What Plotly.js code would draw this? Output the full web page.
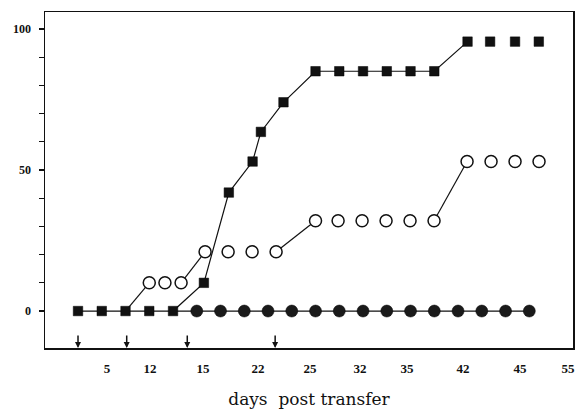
<!DOCTYPE html>
<html>
<head>
<meta charset="utf-8">
<script src="https://cdn.plot.ly/plotly-3.0.1.min.js"></script>
<style>html,body{margin:0;padding:0;background:#fff;}#chart{width:577px;height:416px;}</style>
</head>
<body>
<div id="chart"></div>
<script>
// x positions are measurement slots along the (non-linear) day axis
const squaresX = [0, 1, 2, 3, 4, 5.3, 6.35, 7.35, 7.7, 8.65, 10, 11, 12, 13, 14, 15, 16.4, 17.35, 18.4, 19.4];
const squaresY = [0, 0, 0, 0, 0, 10, 42, 53, 63.5, 74, 85, 85, 85, 85, 85, 85, 95.5, 95.5, 95.5, 95.5];

const openX = [2, 3, 3.66, 4.34, 5.35, 6.32, 7.33, 8.34, 10, 10.95, 11.96, 12.97, 13.98, 14.99, 16.38, 17.39, 18.4, 19.41];
const openY = [0, 10, 10, 10, 21, 21, 21, 21, 32, 32, 32, 32, 32, 32, 53, 53, 53, 53];

const filledX = [4, 5, 6, 7, 8, 9, 10, 11, 12, 13, 14, 15, 16, 17, 18, 19];
const filledY = [0, 0, 0, 0, 0, 0, 0, 0, 0, 0, 0, 0, 0, 0, 0, 0];

const tickSlots = [1.22, 3.03, 5.26, 7.58, 9.77, 11.87, 13.85, 16.21, 18.61, 20.63];
const tickLabels = ['5', '12', '15', '22', '25', '32', '35', '42', '45', '55'];

const arrowSlots = [0, 2.05, 4.6, 8.3];

const yTickVals = [0, 10, 20, 30, 40, 50, 60, 70, 80, 90, 100];
const yTickText = yTickVals.map(v => (v % 50 === 0 ? String(v) : ''));

function segments(x, y, connect) {
  const sx = [], sy = [];
  for (let i = 0; i < x.length; i++) {
    if (i > 0 && !connect(i, x, y)) { sx.push(null); sy.push(null); }
    sx.push(x[i]); sy.push(y[i]);
  }
  return {x: sx, y: sy};
}

const lineStyle = {color: '#111', width: 1.2};
const sqSeg = segments(squaresX, squaresY, (i) => i <= 16);
const opSeg = segments(openX, openY, (i, x, y) => y[i] !== y[i - 1]);
const fiSeg = segments(filledX, filledY, () => true);

const traces = [
  {x: fiSeg.x, y: fiSeg.y, mode: 'lines', line: lineStyle, connectgaps: false},
  {x: opSeg.x, y: opSeg.y, mode: 'lines', line: lineStyle, connectgaps: false},
  {x: sqSeg.x, y: sqSeg.y, mode: 'lines', line: lineStyle, connectgaps: false},
  {x: filledX.slice(1), y: filledY.slice(1), mode: 'markers',
   marker: {symbol: 'circle', size: 12, color: '#1a1a1a', line: {color: '#000', width: 0.5}}},
  {x: openX.slice(1), y: openY.slice(1), mode: 'markers',
   marker: {symbol: 'circle', size: 12, color: '#fff', line: {color: '#111', width: 1.5}}},
  {x: squaresX, y: squaresY, mode: 'markers',
   marker: {symbol: 'square', size: 9.5, color: '#111', line: {color: '#000', width: 0.5}}}
];

const annotations = arrowSlots.map(s => ({
  x: s, y: 0, xref: 'x', yref: 'paper', text: '', showarrow: true,
  ax: 0, ay: -14, arrowhead: 2, arrowsize: 0.8, arrowwidth: 1.5, arrowcolor: '#111'
}));

const layout = {
  width: 577, height: 416,
  margin: {l: 45, r: 4, t: 12, b: 68},
  paper_bgcolor: '#fff', plot_bgcolor: '#fff',
  showlegend: false, hovermode: false,
  xaxis: {
    range: [-1.39, 20.84], showgrid: false, zeroline: false,
    showline: true, mirror: true, linewidth: 1.5, linecolor: '#111',
    ticks: '', tickvals: tickSlots, ticktext: tickLabels,
    tickfont: {family: 'Liberation Serif', size: 13, color: '#111', weight: 'bold'},
    ticklabelstandoff: 8,
    title: {text: 'days  post transfer', font: {family: 'DejaVu Serif', size: 17, color: '#111'}, standoff: 18}
  },
  yaxis: {
    range: [-13.1, 106], showgrid: false, zeroline: false,
    showline: true, mirror: true, linewidth: 1.5, linecolor: '#111',
    ticks: 'outside', ticklen: 5, tickwidth: 1.2, tickcolor: '#111',
    tickvals: yTickVals, ticktext: yTickText,
    tickfont: {family: 'Liberation Serif', size: 12, color: '#111', weight: 'bold'},
    ticklabelstandoff: 5
  },
  annotations: annotations
};

Plotly.newPlot('chart', traces, layout, {displayModeBar: false, staticPlot: true});
</script>
</body>
</html>
